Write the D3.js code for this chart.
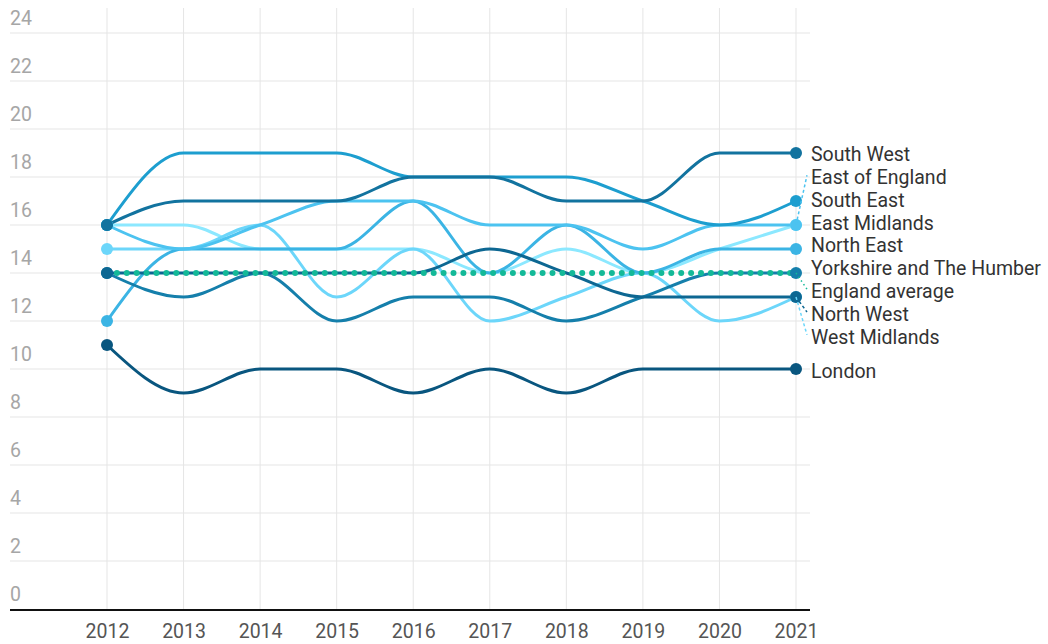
<!DOCTYPE html>
<html>
<head>
<meta charset="utf-8">
<script src="https://cdn.jsdelivr.net/npm/d3@7"></script>
<style>
  html, body { margin: 0; padding: 0; background: #fff; }
  svg { display: block; font-family: Roboto, "Noto Sans", sans-serif; }
</style>
</head>
<body>
<svg id="chart" width="1048" height="644"></svg>
<script>
// ---- data ----
const years = [2012, 2013, 2014, 2015, 2016, 2017, 2018, 2019, 2020, 2021];
const yTicks = [0, 2, 4, 6, 8, 10, 12, 14, 16, 18, 20, 22, 24];

const southWest      = [16, 17, 17, 17, 18, 18, 17, 17, 19, 19];
const eastOfEngland  = [16, 15, 16, 17, 17, 16, 16, 15, 16, 16];
const southEast      = [16, 19, 19, 19, 18, 18, 18, 17, 16, 17];
const eastMidlands   = [16, 16, 15, 15, 15, 14, 15, 14, 15, 16];
const northEast      = [12, 15, 15, 15, 17, 14, 16, 14, 15, 15];
const yorkshire      = [14, 13, 14, 12, 13, 13, 12, 13, 14, 14];
const englandAverage = [14, 14, 14, 14, 14, 14, 14, 14, 14, 14];
const northWest      = [14, 14, 14, 14, 14, 15, 14, 13, 13, 13];
const westMidlands   = [15, 15, 16, 13, 15, 12, 13, 14, 12, 13];
const london         = [11, 9, 10, 10, 9, 10, 9, 10, 10, 10];

// label stacking order (top to bottom)
const labelOrder = ["South West", "East of England", "South East", "East Midlands", "North East",
  "Yorkshire and The Humber", "England average", "North West", "West Midlands", "London"];

// ---- series table (draw order: first is bottom) ----
const series = [
  { name: "East Midlands", values: eastMidlands, color: "#8ce8ff" },
  { name: "West Midlands", values: westMidlands, color: "#6cd6fa" },
  { name: "North East", values: northEast, color: "#3bb4e4" },
  { name: "East of England", values: eastOfEngland, color: "#4cc3f0" },
  { name: "South East", values: southEast, color: "#1d9ecf" },
  { name: "Yorkshire and The Humber", values: yorkshire, color: "#157fab" },
  { name: "South West", values: southWest, color: "#12739f" },
  { name: "North West", values: northWest, color: "#0d6792" },
  { name: "London", values: london, color: "#09567f" },
  { name: "England average", values: englandAverage, color: "#13b998", dotted: true }
];

// ---- scales ----
const svg = d3.select("#chart");
const x = d3.scaleLinear().domain([2012, 2021]).range([107, 796]);
const y = d3.scaleLinear().domain([0, 24]).range([609, 33]);
const gridLeft = 10, gridRight = 810, gridTop = 8;
const fontSize = 19.5;

// horizontal grid
svg.append("g").selectAll("line").data(yTicks.filter(d => d !== 0)).join("line")
  .attr("x1", gridLeft).attr("x2", gridRight)
  .attr("y1", d => y(d)).attr("y2", d => y(d))
  .attr("stroke", "#e5e5e5").attr("stroke-width", 1);

// vertical grid
svg.append("g").selectAll("line").data(years).join("line")
  .attr("x1", d => x(d)).attr("x2", d => x(d))
  .attr("y1", gridTop).attr("y2", y(0))
  .attr("stroke", "#e5e5e5").attr("stroke-width", 1);

// y labels (above gridlines)
svg.append("g").selectAll("text").data(yTicks).join("text")
  .attr("x", gridLeft).attr("y", d => y(d) - 8)
  .attr("font-size", fontSize).attr("fill", "#a6a6a6")
  .text(d => d);

// x axis
const xAxis = d3.axisBottom(x).tickValues(years).tickFormat(d3.format("d")).tickSize(0).tickPadding(15);
const gx = svg.append("g").attr("transform", `translate(0,${y(0)})`).call(xAxis);
gx.select(".domain").remove();
gx.selectAll("text").attr("font-size", fontSize).attr("fill", "#555").attr("font-family", "Roboto, sans-serif");
svg.append("line").attr("x1", gridLeft).attr("x2", gridRight)
  .attr("y1", y(0) + 1).attr("y2", y(0) + 1)
  .attr("stroke", "#111").attr("stroke-width", 2);

// lines
const line = d3.line().x((d, i) => x(years[i])).y(d => y(d)).curve(d3.curveMonotoneX);
const solid = series.filter(s => !s.dotted);
const dotted = series.filter(s => s.dotted);

svg.append("g").selectAll("path").data(solid).join("path")
  .attr("d", s => line(s.values))
  .attr("fill", "none").attr("stroke", s => s.color)
  .attr("stroke-width", 3).attr("stroke-linejoin", "round");

svg.append("g").selectAll("path").data(dotted).join("path")
  .attr("d", s => line(s.values))
  .attr("fill", "none").attr("stroke", s => s.color)
  .attr("stroke-width", 6).attr("stroke-linecap", "round")
  .attr("stroke-dasharray", "0 9.9");

// end dots
const dotData = [];
solid.forEach(s => {
  dotData.push({ s, i: 0 });
  dotData.push({ s, i: years.length - 1 });
});
svg.append("g").selectAll("circle").data(dotData).join("circle")
  .attr("cx", d => x(years[d.i])).attr("cy", d => y(d.s.values[d.i]))
  .attr("r", 6).attr("fill", d => d.s.color);

// ---- labels with collision avoidance ----
const gap = 22.8;
const last = years.length - 1;
const labels = labelOrder.map(n => {
  const s = series.find(t => t.name === n);
  return { s, target: y(s.values[last]) };
});
let clusters = labels.map((l, i) => ({ idx: [i], top: l.target }));
let changed = true;
while (changed) {
  changed = false;
  for (let k = 0; k < clusters.length - 1; k++) {
    const a = clusters[k], b = clusters[k + 1];
    const aBottom = a.top + (a.idx.length - 1) * gap;
    if (aBottom + gap > b.top) {
      const idx = a.idx.concat(b.idx);
      const top = d3.mean(idx, (j, m) => labels[j].target - m * gap);
      clusters.splice(k, 2, { idx, top });
      changed = true;
      break;
    }
  }
}
clusters.forEach(c => c.idx.forEach((j, m) => { labels[j].ly = c.top + m * gap + 2; }));

const lg = svg.append("g");
labels.forEach(l => {
  const dy = y(l.s.values[last]);
  if (Math.abs(l.ly - dy) > 5) {
    lg.append("line")
      .attr("x1", x(2021)).attr("y1", dy)
      .attr("x2", x(2021) + 11).attr("y2", l.ly - 2)
      .attr("stroke", l.s.color).attr("stroke-width", 1.5)
      .attr("stroke-dasharray", l.s.dotted ? "1.5 3" : "3 2.5");
  }
  lg.append("text")
    .attr("x", 811).attr("y", l.ly).attr("dy", "0.35em")
    .attr("font-size", fontSize).attr("fill", "#333")
    .text(l.s.name);
});
</script>
</body>
</html>
